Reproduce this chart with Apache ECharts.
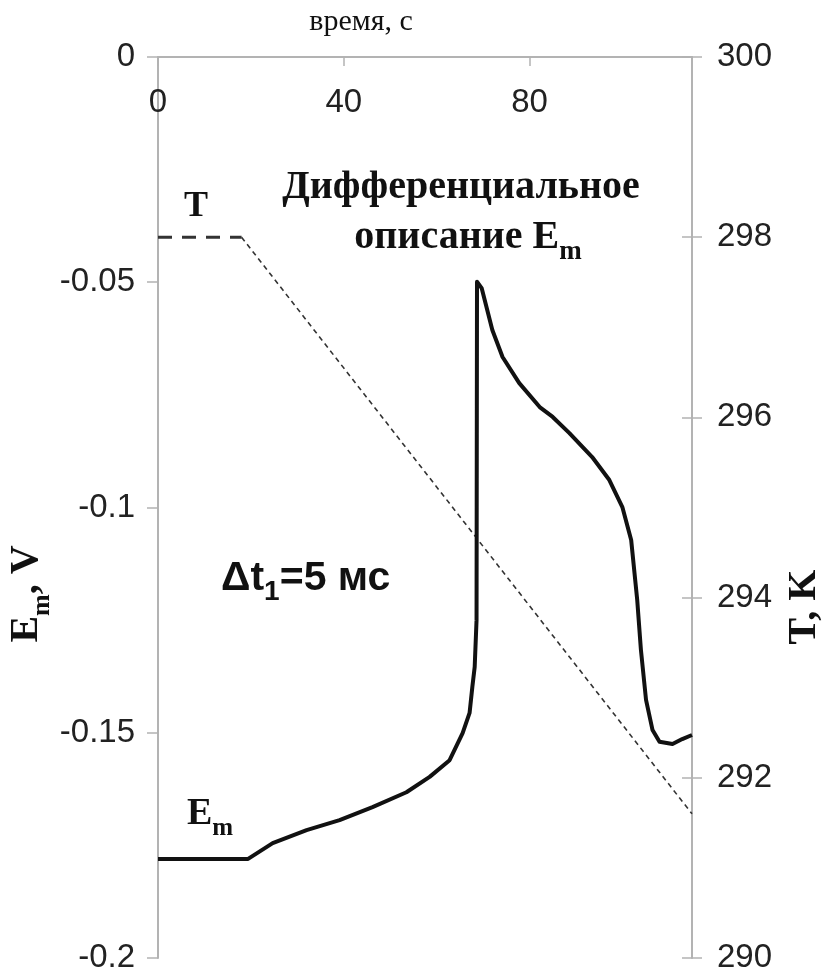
<!DOCTYPE html>
<html>
<head>
<meta charset="utf-8">
<script src="https://cdn.jsdelivr.net/npm/echarts@6/dist/echarts.min.js"></script>
<style>
  html, body { margin: 0; padding: 0; background: #ffffff; }
  #chart { width: 825px; height: 975px; }
</style>
</head>
<body>
<div id="chart"></div>
<script>
// Membrane potential E_m (V) against time (s)
const emTime = [0, 19.4, 24.7, 32.0, 39.1, 46.2, 53.5, 58.5, 62.8, 65.6, 67.1, 67.7, 68.2, 68.6,
  68.7, 69.7, 72.0, 74.2, 77.8, 82.2, 85.0, 88.6, 93.5, 97.2, 100.0, 101.9, 103.2, 104.0,
  105.1, 106.5, 108.0, 110.8, 112.9, 115.0];
const emVolt = [-0.178, -0.178, -0.1745, -0.1716, -0.1694, -0.1665, -0.1632, -0.1598, -0.1561,
  -0.1501, -0.1456, -0.1398, -0.1354, -0.125, -0.0499, -0.0513, -0.0606, -0.0666, -0.0724,
  -0.0777, -0.0799, -0.0835, -0.0888, -0.0939, -0.0999, -0.1072, -0.1205, -0.1316, -0.1427,
  -0.1494, -0.152, -0.1525, -0.1514, -0.1505];

// Temperature T (K): holding phase, then linear cooling
const tempHoldTime = [0, 18];
const tempHoldKelvin = [298, 298];
const tempCoolTime = [18, 115];
const tempCoolKelvin = [298, 291.6];

// Axis ranges and tick steps
const timeRange = [0, 115];
const timeStep = 40;
const emRange = [-0.2, 0];
const emStep = 0.05;
const tempRange = [290, 300];
const tempStep = 2;

const zip = (xs, ys) => xs.map((x, i) => [x, ys[i]]);

const axisGrey = '#b3b3b3';
const labelFont = '"Liberation Sans", Arial, sans-serif';
const serifFont = '"Liberation Serif", "Times New Roman", serif';

const chart = echarts.init(document.getElementById('chart'), null, { renderer: 'canvas' });

chart.setOption({
  backgroundColor: '#ffffff',
  animation: false,
  grid: { left: 158, right: 133, top: 57, bottom: 17, containLabel: false },
  xAxis: {
    type: 'value',
    position: 'top',
    min: timeRange[0],
    max: timeRange[1],
    interval: timeStep,
    axisLine: { show: true, lineStyle: { color: axisGrey, width: 2 } },
    axisTick: { show: true, inside: true, length: 9, lineStyle: { color: axisGrey, width: 1.5 } },
    axisLabel: {
      inside: true, margin: 29, fontSize: 33, color: '#222', fontFamily: labelFont,
      showMaxLabel: false,
      formatter: v => (v % timeStep === 0 ? String(v) : '')
    },
    splitLine: { show: false }
  },
  yAxis: [
    {
      type: 'value',
      position: 'left',
      min: emRange[0],
      max: emRange[1],
      interval: emStep,
      axisLine: { show: true, lineStyle: { color: axisGrey, width: 2 } },
      axisTick: { show: true, inside: false, length: 11, lineStyle: { color: axisGrey, width: 1.5 } },
      axisLabel: {
        margin: 23, fontSize: 33, color: '#222', fontFamily: labelFont,
        formatter: v => String(parseFloat(v.toFixed(2)))
      },
      splitLine: { show: false }
    },
    {
      type: 'value',
      position: 'right',
      min: tempRange[0],
      max: tempRange[1],
      interval: tempStep,
      axisLine: { show: true, lineStyle: { color: axisGrey, width: 2 } },
      axisTick: { show: true, inside: false, length: 10, lineStyle: { color: axisGrey, width: 1.5 } },
      axisLabel: { margin: 25, fontSize: 33, color: '#222', fontFamily: labelFont },
      splitLine: { show: false }
    },
    {
      // inner half of the crossing ticks on the temperature axis
      type: 'value',
      position: 'right',
      offset: 0,
      min: tempRange[0],
      max: tempRange[1],
      interval: tempStep,
      axisLine: { show: false },
      axisTick: { show: true, inside: true, length: 10, lineStyle: { color: axisGrey, width: 1.5 } },
      axisLabel: { show: false },
      splitLine: { show: false }
    }
  ],
  series: [
    {
      name: 'T hold',
      type: 'line',
      yAxisIndex: 1,
      data: zip(tempHoldTime, tempHoldKelvin),
      showSymbol: false,
      lineStyle: { color: '#333', width: 3, type: [14, 10] },
      z: 2
    },
    {
      name: 'T cooling',
      type: 'line',
      yAxisIndex: 1,
      data: zip(tempCoolTime, tempCoolKelvin),
      showSymbol: false,
      lineStyle: { color: '#333', width: 1.6, type: [5, 4] },
      z: 2
    },
    {
      name: 'Em',
      type: 'line',
      yAxisIndex: 0,
      data: zip(emTime, emVolt),
      showSymbol: false,
      lineStyle: { color: '#111', width: 4, join: 'round' },
      z: 3
    }
  ],
  graphic: [
    {
      type: 'text', x: 361, y: 22,
      style: { text: 'время, с', font: '30px ' + serifFont, fill: '#111', align: 'center', verticalAlign: 'middle' }
    },
    {
      type: 'text', x: 461, y: 188,
      style: { text: 'Дифференциальное', font: 'bold 40px ' + serifFont, fill: '#111', align: 'center', verticalAlign: 'middle' }
    },
    {
      type: 'text', x: 468, y: 242,
      style: {
        text: '{a|описание E}{s|m}',
        align: 'center', verticalAlign: 'middle', fill: '#111',
        rich: {
          a: { font: 'bold 40px ' + serifFont, fill: '#111', verticalAlign: 'bottom', padding: [0, 0, 8, 0] },
          s: { font: 'bold 27px ' + serifFont, fill: '#111', verticalAlign: 'bottom' }
        }
      }
    },
    {
      type: 'text', x: 196, y: 207,
      style: { text: 'T', font: 'bold 36px ' + serifFont, fill: '#111', align: 'center', verticalAlign: 'middle' }
    },
    {
      type: 'text', x: 187, y: 818,
      style: {
        text: '{a|E}{s|m}',
        align: 'left', verticalAlign: 'middle', fill: '#111',
        rich: {
          a: { font: 'bold 38px ' + serifFont, fill: '#111', verticalAlign: 'bottom', padding: [0, 0, 8, 0] },
          s: { font: 'bold 25px ' + serifFont, fill: '#111', verticalAlign: 'bottom' }
        }
      }
    },
    {
      type: 'text', x: 221, y: 582,
      style: {
        text: '{a|Δt}{s|1}{a|=5 мс}',
        align: 'left', verticalAlign: 'middle', fill: '#111',
        rich: {
          a: { font: 'bold 41px ' + labelFont, fill: '#111', verticalAlign: 'bottom', padding: [0, 0, 7, 0] },
          s: { font: 'bold 28px ' + labelFont, fill: '#111', verticalAlign: 'bottom' }
        }
      }
    },
    {
      type: 'text', x: 31, y: 594, rotation: Math.PI / 2,
      style: {
        text: '{a|E}{s|m}{a|, V}',
        align: 'center', verticalAlign: 'middle', fill: '#111',
        rich: {
          a: { font: 'bold 40px ' + serifFont, fill: '#111', verticalAlign: 'bottom', padding: [0, 0, 8, 0] },
          s: { font: 'bold 26px ' + serifFont, fill: '#111', verticalAlign: 'bottom' }
        }
      }
    },
    {
      type: 'text', x: 805, y: 607, rotation: Math.PI / 2,
      style: { text: 'T, K', font: 'bold 40px ' + serifFont, fill: '#111', align: 'center', verticalAlign: 'middle' }
    }
  ]
});
</script>
</body>
</html>
